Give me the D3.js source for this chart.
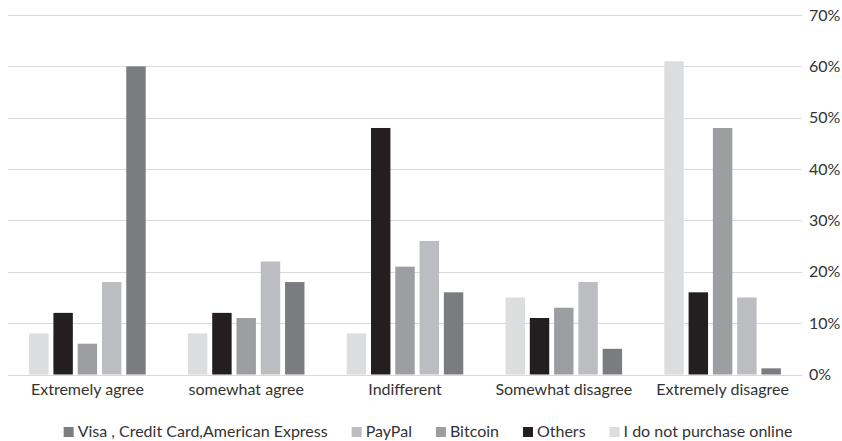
<!DOCTYPE html>
<html>
<head>
<meta charset="utf-8">
<script src="https://cdn.jsdelivr.net/npm/d3@7"></script>
<style>
  html, body { margin: 0; padding: 0; background: #ffffff; }
  svg { display: block; font-family: Lato, "Open Sans", sans-serif; }
</style>
</head>
<body>
<svg id="chart" width="842" height="441"></svg>
<script>
// Survey answers (x axis groups)
const categories = ["Extremely agree", "somewhat agree", "Indifferent", "Somewhat disagree", "Extremely disagree"];

// Payment methods, in legend order
const seriesNames = ["Visa , Credit Card,American Express", "PayPal", "Bitcoin", "Others", "I do not purchase online"];
const seriesColors = ["#7b7c80", "#bcbdc0", "#9d9ea2", "#231f20", "#dcdddf"];

// Share of respondents (%) per answer, one array per payment method
const visaValues    = [60, 18, 16, 5, 1.2];
const paypalValues  = [18, 22, 26, 18, 15];
const bitcoinValues = [6, 11, 21, 13, 48];
const othersValues  = [12, 12, 48, 11, 16];
const noOnlineValues = [8, 8, 8, 15, 61];

// Y axis ticks
const yTicks = [0, 10, 20, 30, 40, 50, 60, 70];

const seriesValues = [visaValues, paypalValues, bitcoinValues, othersValues, noOnlineValues];
// bars within a group are drawn in reverse legend order
const barOrder = [4, 3, 2, 1, 0];

const svg = d3.select("#chart");
const plotLeft = 8, plotRight = 802, plotTop = 15, plotBottom = 374.5;
const fontSize = 16;
const textColor = "#333333";

const y = d3.scaleLinear().domain([0, 70]).range([plotBottom, plotTop]);
const x0 = d3.scaleBand().domain(categories).range([plotLeft, plotRight]).padding(0);
const x1 = d3.scaleBand().domain(barOrder).range([0, x0.bandwidth()])
  .paddingInner(0.2).paddingOuter(0.87);

// gridlines
svg.append("g").selectAll("line").data(yTicks).join("line")
  .attr("x1", plotLeft).attr("x2", plotRight)
  .attr("y1", d => Math.round(y(d)) + 0.5).attr("y2", d => Math.round(y(d)) + 0.5)
  .attr("stroke", "#d9d9d9").attr("stroke-width", 1);

// y tick labels on the right
svg.append("g").selectAll("text").data(yTicks).join("text")
  .attr("x", 809).attr("y", d => y(d))
  .attr("dy", "0.35em")
  .attr("fill", textColor).attr("font-size", fontSize)
  .text(d => d + "%");

// bars
const groups = svg.append("g").selectAll("g").data(categories).join("g")
  .attr("transform", c => `translate(${x0(c)},0)`);

groups.selectAll("rect")
  .data((c, ci) => barOrder.map(si => ({ si, v: seriesValues[si][ci] })))
  .join("rect")
  .attr("x", d => x1(d.si))
  .attr("width", x1.bandwidth())
  .attr("y", d => y(d.v))
  .attr("height", d => y(0) - y(d.v))
  .attr("fill", d => seriesColors[d.si]);

// category labels
svg.append("g").selectAll("text").data(categories).join("text")
  .attr("x", c => x0(c) + x0.bandwidth() / 2)
  .attr("y", 395)
  .attr("text-anchor", "middle")
  .attr("fill", textColor).attr("font-size", fontSize)
  .text(c => c);

// legend, laid out from measured text widths and centred
const legend = svg.append("g");
const items = legend.selectAll("g").data(seriesNames).join("g");
items.append("rect").attr("width", 10).attr("height", 10)
  .attr("y", 427).attr("fill", (d, i) => seriesColors[i]);
items.append("text").attr("x", 14).attr("y", 437)
  .attr("fill", textColor).attr("font-size", fontSize)
  .text(d => d);
const gap = 24;
const widths = [];
items.each(function () { widths.push(14 + d3.select(this).select("text").node().getComputedTextLength()); });
const total = d3.sum(widths) + gap * (widths.length - 1);
let cx = 428 - total / 2;
items.attr("transform", (d, i) => { const t = `translate(${cx},0)`; cx += widths[i] + gap; return t; });
</script>
</body>
</html>
